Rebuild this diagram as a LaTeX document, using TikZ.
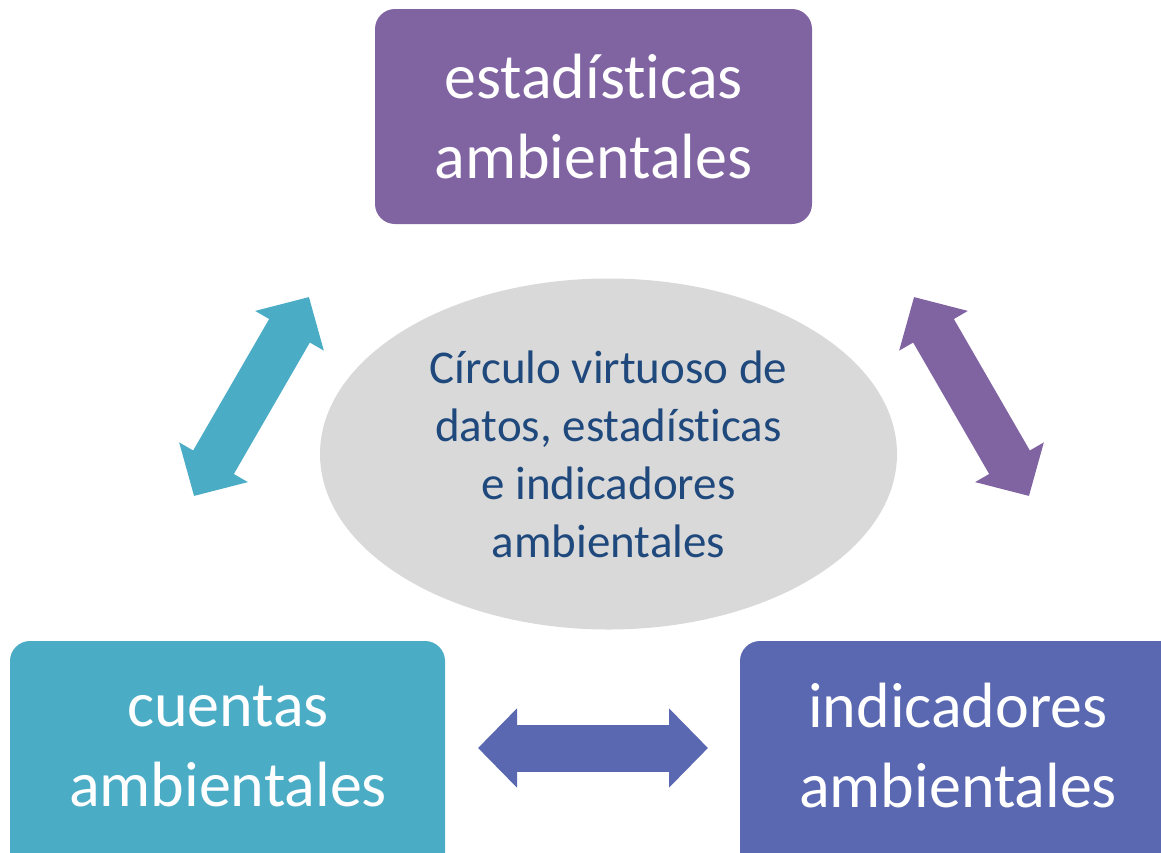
\documentclass[tikz,border=0pt]{standalone}
\usepackage{fontspec}
\setmainfont{Carlito}[Ligatures={NoCommon}]
\usetikzlibrary{shapes.geometric,arrows.meta}

\definecolor{morado}{HTML}{8064A2}
\definecolor{turquesa}{HTML}{4BACC6}
\definecolor{azul}{HTML}{5A68B2}
\definecolor{gris}{HTML}{D9D9D9}
\definecolor{tinta}{HTML}{1F497D}

\begin{document}
\begin{tikzpicture}[x=1pt, y=-1pt,
    caja/.style={rectangle, rounded corners=20pt, inner sep=0pt},
    rotulo/.style={align=center, text=white, inner sep=0pt, font=\fontsize{64}{80}\selectfont},
    flecha/.style={line width=47pt, {Triangle[length=39pt, width=77pt]}-{Triangle[length=39pt, width=77pt]}}]
      \useasboundingbox (0,0) rectangle (1161,852);
      \clip (0,0) rectangle (1161,852);

      % Nodes
      \node[caja, rotulo, fill=morado, minimum width=437pt, minimum height=215pt] at (593.5,116.5) (est) {estadísticas\\ambientales};
      \node[caja, fill=turquesa, minimum width=435pt, minimum height=250pt] at (227.5,766) (cue) {};
      \node[rotulo] at (228,746) (cuet) {cuentas\\ambientales};
      \node[caja, fill=azul, minimum width=460pt, minimum height=250pt] at (970,766) (ind) {};
      \node[rotulo] at (958,746) (indt) {indicadores\\ambientales};
      \node[ellipse, fill=gris, minimum width=577pt, minimum height=351pt, inner sep=0pt, align=center,
        text=tinta, font=\fontsize{47}{58}\selectfont] at (608.5,454) (circ) {Círculo virtuoso de\\datos, estadísticas\\e indicadores\\ambientales};

      % Arrows
      \coordinate (c1) at (194,496);
      \coordinate (c2) at (309,297);
      \coordinate (c3) at (914,297);
      \coordinate (c4) at (1029,496);
      \coordinate (c5) at (478,748);
      \coordinate (c6) at (708,748);
      \draw[flecha, turquesa] (c1) -- (c2);
      \draw[flecha, morado] (c3) -- (c4);
      \draw[flecha, azul] (c5) -- (c6);
    \end{tikzpicture}
\end{document}
